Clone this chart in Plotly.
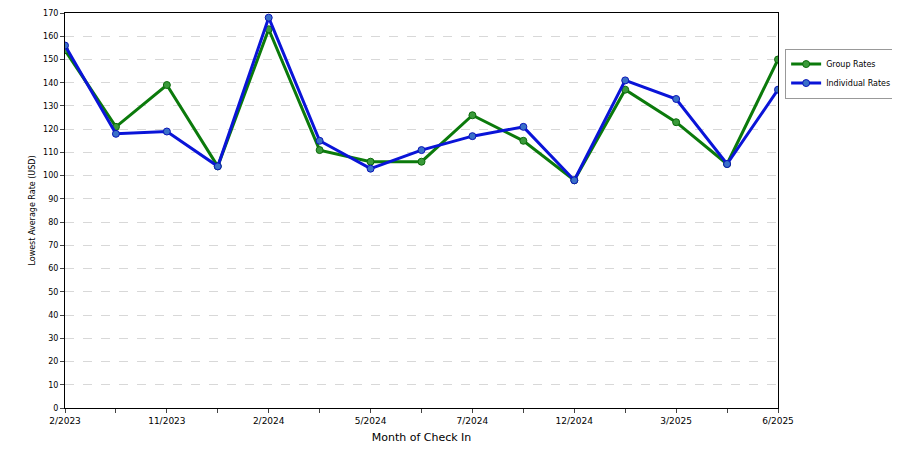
import plotly.graph_objects as go

positions = list(range(15))
tick_labels = ["2/2023", "", "11/2023", "", "2/2024", "", "5/2024", "", "7/2024", "",
               "12/2024", "", "3/2025", "", "6/2025"]
group_rates = [154, 121, 139, 104, 163, 111, 106, 106, 126, 115, 98, 137, 123, 105, 150]
individual_rates = [156, 118, 119, 104, 168, 115, 103, 111, 117, 121, 98, 141, 133, 105, 137]

fig = go.Figure()
fig.add_trace(go.Scatter(
    x=positions, y=group_rates, mode="lines+markers", name="Group Rates",
    line=dict(color="#0b7a0b", width=3),
    marker=dict(color="#3a9a3a", size=7, line=dict(color="#0b6a0b", width=1)),
))
fig.add_trace(go.Scatter(
    x=positions, y=individual_rates, mode="lines+markers", name="Individual Rates",
    line=dict(color="#0a14d8", width=3),
    marker=dict(color="#3a70c8", size=7, line=dict(color="#0a14b8", width=1)),
))

fig.update_layout(
    width=900, height=450,
    margin=dict(l=57, r=130, t=5, b=50),
    plot_bgcolor="white", paper_bgcolor="white",
    font=dict(family="DejaVu Sans", size=9, color="black"),
    legend=dict(x=1.01, y=0.91, xanchor="left", yanchor="top",
                bordercolor="#999999", borderwidth=1, font=dict(size=8),
                itemwidth=30, tracegroupgap=2),
    xaxis=dict(title=dict(text="Month of Check In", standoff=8),
               tickvals=positions, ticktext=tick_labels, range=[0, 14],
               showgrid=False, showline=True, linecolor="black", mirror=True,
               ticks="outside", ticklen=4, zeroline=False, automargin=False),
    yaxis=dict(title=dict(text="Lowest Average Rate (USD)", standoff=6, font=dict(size=8)),
               range=[0, 170], dtick=10, showgrid=True,
               gridcolor="#d8d8d8", griddash="dash", tickfont=dict(size=8),
               showline=True, linecolor="black", mirror=True,
               ticks="outside", ticklen=4, zeroline=False, automargin=False),
)

fig.write_html("out.html")
